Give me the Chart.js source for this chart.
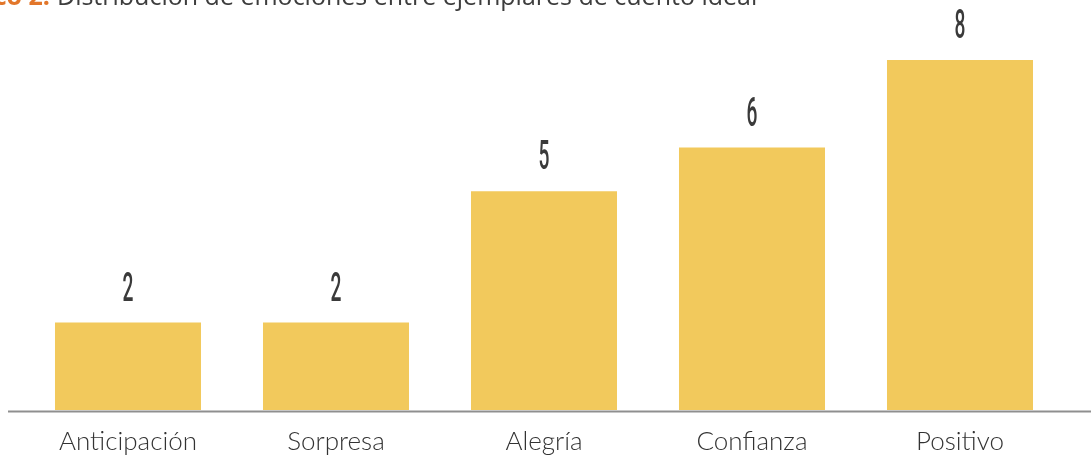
<!DOCTYPE html>
<html lang="es">
<head>
<meta charset="utf-8">
<title>Distribución de emociones</title>
<script src="https://cdn.jsdelivr.net/npm/chart.js@4/dist/chart.umd.min.js"></script>
<style>
  html, body { margin: 0; padding: 0; background: #fff; overflow: hidden; }
  #wrap { position: relative; width: 1091px; height: 455px; }
  #titulo {
    position: absolute; left: 57px; top: -17px;
    font: 25px/25px "Open Sans", sans-serif; color: #3d3d3d; white-space: nowrap;
  }
  #titulo span {
    position: absolute; right: 100%; margin-right: 7px;
    color: #e2762a; font-weight: 700; white-space: nowrap;
  }
</style>
</head>
<body>
<div id="wrap">
  <div id="titulo"><span>Gráfico 2:</span>Distribución de emociones entre ejemplares de cuento ideal</div>
  <canvas id="chart"></canvas>
</div>
<script>
const categorias = ['Anticipación', 'Sorpresa', 'Alegría', 'Confianza', 'Positivo'];
const valores = [2, 2, 5, 6, 8];

const colorBarra = '#f2c95c';

// numeros encima de cada barra, en letra estrecha
const etiquetas = {
    id: 'etiquetas',
    afterDatasetsDraw(chart) {
        const ctx = chart.ctx;
        const meta = chart.getDatasetMeta(0);
        ctx.save();
        ctx.fillStyle = '#3a3a3a';
        ctx.font = '500 40px Roboto';
        ctx.textAlign = 'center';
        ctx.textBaseline = 'alphabetic';
        meta.data.forEach((bar, i) => {
            ctx.save();
            ctx.translate(bar.x, bar.y - 22);
            ctx.scale(0.48, 1);
            ctx.fillText(String(valores[i]), 0, 0);
            ctx.restore();
        });
        ctx.restore();
    }
};

// linea base que cruza todo el ancho
const lineaBase = {
    id: 'lineaBase',
    afterDatasetsDraw(chart) {
        const ctx = chart.ctx;
        const y = chart.scales.y.getPixelForValue(0) + 1.5;
        ctx.save();
        ctx.strokeStyle = '#8f8f8f';
        ctx.lineWidth = 2;
        ctx.beginPath();
        ctx.moveTo(8, y);
        ctx.lineTo(chart.width, y);
        ctx.stroke();
        ctx.restore();
    }
};

new Chart(document.getElementById('chart'), {
    type: 'bar',
    data: {
        labels: categorias,
        datasets: [{
            data: valores,
            backgroundColor: colorBarra,
            borderWidth: 0,
            barPercentage: 0.702,
            categoryPercentage: 1
        }]
    },
    options: {
        responsive: true,
        maintainAspectRatio: false,
        animation: false,
        layout: { padding: { top: 60, left: 24, right: 27, bottom: 0 } },
        plugins: {
            legend: { display: false },
            tooltip: { enabled: false }
        },
        scales: {
            x: {
                grid: { display: false, drawTicks: false },
                border: { display: false },
                ticks: {
                    color: '#333',
                    font: { family: 'Lato', size: 26, weight: 300 },
                    padding: 16
                },
                afterFit(scale) { scale.height = 45; }
            },
            y: {
                display: false,
                min: 0,
                max: 8
            }
        }
    },
    plugins: [etiquetas, lineaBase]
});
</script>
</body>
</html>
